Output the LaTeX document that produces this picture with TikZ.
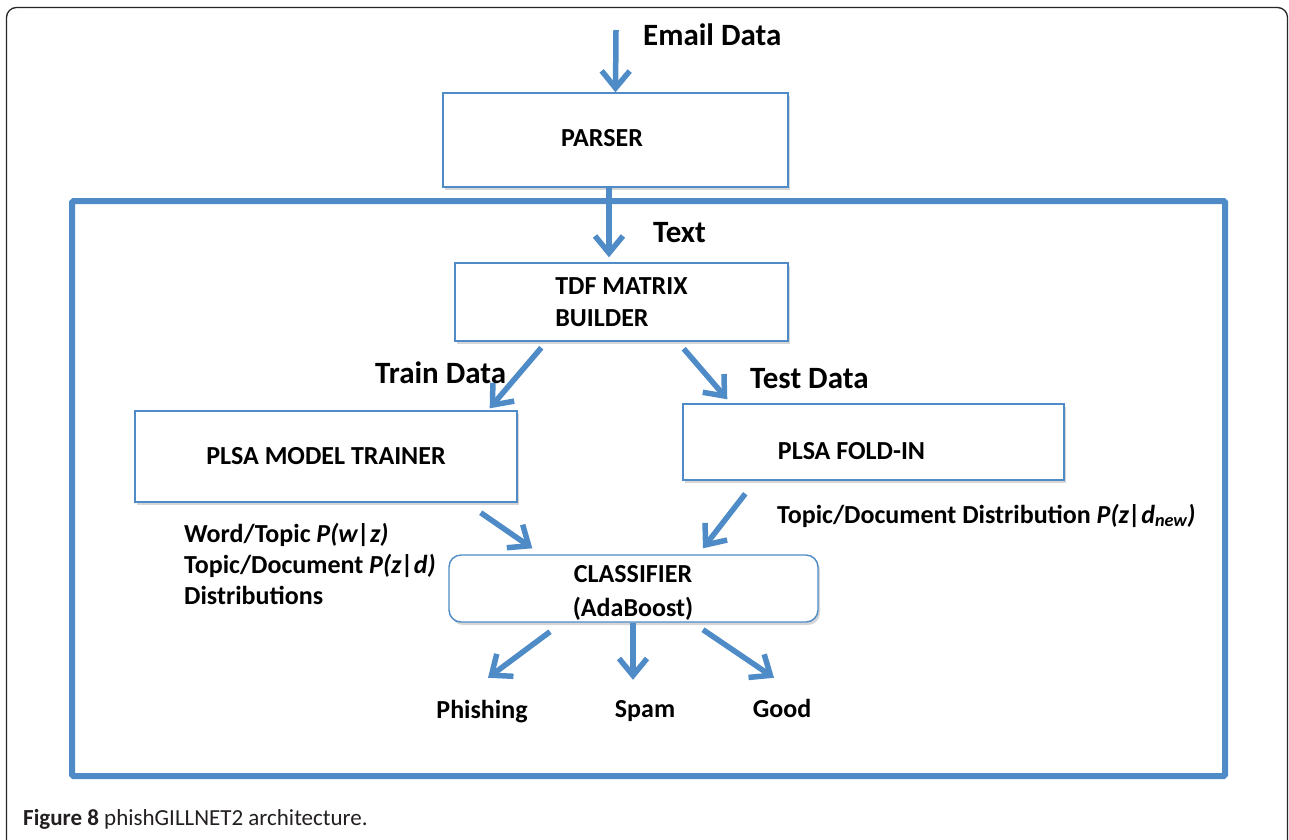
\documentclass[tikz,border=0pt]{standalone}
\usepackage{fontspec}
\setmainfont{Carlito}
\usetikzlibrary{arrows.meta,shadows}
\definecolor{flowblue}{RGB}{79,139,199}
\definecolor{capgray}{RGB}{35,31,32}
\newcommand\bxfont{\bfseries\fontsize{26}{32}\selectfont}
\newcommand\lblfont{\bfseries\fontsize{31}{36}\selectfont}
\newcommand\distfont{\bfseries\fontsize{26}{31}\selectfont}
\tikzset{
  box/.style={draw=flowblue, line width=1.4pt, fill=white, inner sep=0pt,
    drop shadow={shadow xshift=2pt, shadow yshift=-3pt, opacity=0.16, fill=black}},
  flow/.style={draw=flowblue, line width=5.5pt,
    -{Straight Barb[length=17pt,width=28pt]}},
  lbl/.style={font=\lblfont, inner sep=0pt, anchor=base west},
  outlbl/.style={font=\bxfont, inner sep=0pt, anchor=base, text height=20pt},
  txt/.style={font=\bxfont, inner sep=0pt}
}
\begin{document}
\begin{tikzpicture}[x=1pt,y=-1pt]
\useasboundingbox (0,0) rectangle (1289,839);
\clip (0,0) rectangle (1289,839);
\fill[white] (0,0) rectangle (1289,839);

% outer figure frame
\draw[black!85, line width=1.3pt, rounded corners=10pt] (6.5,7.5) rectangle (1287.5,855);

% processing region
\draw[flowblue, line width=6pt, rounded corners=1.5pt] (72,201) rectangle (1225,776);

% boxes
\node[box, minimum width=345pt, minimum height=94pt] (parser) at (615.5,140) {};
\node[txt, anchor=base] (parsertxt) at (602,146) {PARSER};

\node[box, minimum width=333pt, minimum height=78pt, font=\bxfont, align=left] (tdf) at (621.5,302) {TDF MATRIX\\BUILDER};

\node[box, minimum width=382pt, minimum height=91pt, font=\bxfont] (trainer) at (326,456.5) {PLSA MODEL TRAINER};

\node[box, minimum width=381pt, minimum height=76pt] (foldin) at (873.5,442) {};
\node[txt, anchor=base] (foldintxt) at (851.5,459) {PLSA FOLD-IN};

\node[box, rounded corners=12pt, minimum width=369pt, minimum height=67pt] (classifier) at (633.5,588.5) {};
\node[txt, align=center, font=\bfseries\fontsize{26}{34}\selectfont] (classtxt) at (633,593) {CLASSIFIER\\(AdaBoost)};

% labels
\node[lbl] (email) at (643,45) {Email Data};
\node[lbl] (text) at (653,242) {Text};
\node[lbl] (train) at (375,383) {Train Data};
\node[lbl] (test) at (750,388) {Test Data};

\node[font=\distfont, inner sep=0pt, anchor=north west, align=left] (wtdist) at (184,523)
  {Word/Topic \textit{P(w|z)}\\Topic/Document \textit{P(z|d)}\\Distributions};
\node[font=\distfont, inner sep=0pt, anchor=base west] (tddist) at (777,523)
  {Topic/Document Distribution \textit{P(z|d\textsubscript{new})}};

\node[outlbl] (phish) at (482,718) {Phishing};
\node[outlbl] (spam) at (645,717) {Spam};
\node[outlbl] (good) at (782,717) {Good};

% caption
\node[inner sep=0pt, anchor=base west, text=capgray, font=\fontsize{23}{27}\selectfont] (caption) at (23,825)
  {\textbf{Figure 8} phishGILLNET2 architecture.};

% connectors
\coordinate (emailsrc) at (616,30);
\draw[flow] (emailsrc) -- (parser.north);
\draw[flow] ([xshift=-6.5pt]parser.south) -- ([xshift=-12.5pt,yshift=5pt]tdf.north);
\draw[flow] ([xshift=87pt,yshift=-6pt]tdf.south west) -- ([xshift=-28pt,yshift=2pt]trainer.north east);
\draw[flow] ([xshift=-105pt,yshift=-7pt]tdf.south east) -- ([xshift=45pt,yshift=4pt]foldin.north west);
\draw[flow] ([xshift=-37pt,yshift=-10pt]trainer.south east) -- ([xshift=84pt,yshift=6pt]classifier.north west);
\draw[flow] ([xshift=63pt,yshift=-13pt]foldin.south west) -- ([xshift=69.5pt,yshift=6pt]classifier.north);
\draw[flow] ([xshift=-83.5pt,yshift=-9pt]classifier.south) -- ([xshift=6pt,yshift=20pt]phish.north);
\draw[flow] ([xshift=-0.5pt]classifier.south) -- ([xshift=-12pt,yshift=17pt]spam.north);
\draw[flow] ([xshift=69.5pt,yshift=-7pt]classifier.south) -- ([xshift=-8pt,yshift=19pt]good.north);
\end{tikzpicture}
\end{document}
